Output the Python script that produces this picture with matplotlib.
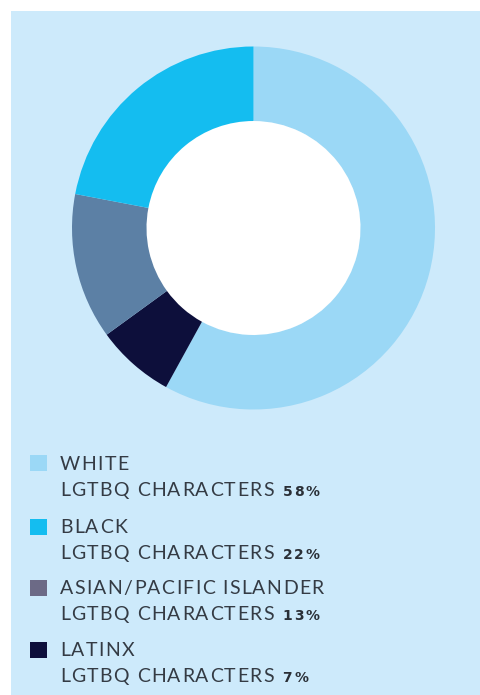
import matplotlib
matplotlib.use("Agg")
import matplotlib.pyplot as plt
from matplotlib.patches import Rectangle
from matplotlib.font_manager import FontProperties, findfont
from matplotlib.ft2font import FT2Font

# Data
categories = ["WHITE", "BLACK", "ASIAN/PACIFIC ISLANDER", "LATINX"]
values = [58, 22, 13, 7]
subtitle = "LGTBQ CHARACTERS"
pie_colors = {"WHITE": "#9bd8f6", "BLACK": "#14bdf0",
              "ASIAN/PACIFIC ISLANDER": "#5c80a5", "LATINX": "#0d0f3b"}
legend_colors = {"WHITE": "#9bd8f6", "BLACK": "#14bdf0",
                 "ASIAN/PACIFIC ISLANDER": "#6c6a86", "LATINX": "#0d0f3b"}
pie_order = ["WHITE", "LATINX", "ASIAN/PACIFIC ISLANDER", "BLACK"]

W, H = 480, 695
DPI = 100
fig = plt.figure(figsize=(W / DPI, H / DPI), dpi=DPI)
fig.patch.set_facecolor("white")

# background panel
fig.patches.append(Rectangle((11 / W, 0), 1 - 11 / W, 1 - 11 / H,
                             transform=fig.transFigure, facecolor="#cdeafb",
                             edgecolor="none", zorder=-5))

# pie axes
cx, cy, R = 253.5, 228, 181.5
ax = fig.add_axes([(cx - R) / W, 1 - (cy + R) / H, 2 * R / W, 2 * R / H])
ax.set_zorder(3)
vals = [values[categories.index(c)] for c in pie_order]
cols = [pie_colors[c] for c in pie_order]
ax.pie(vals, colors=cols, startangle=90, counterclock=False,
       wedgeprops=dict(width=1 - 107 / 181.5, edgecolor="none"))
ax.add_patch(plt.Circle((0, 0), 107 / 181.5, color="white", zorder=0))
ax.set_xlim(-1, 1)
ax.set_ylim(-1, 1)
ax.set_aspect("equal")
ax.axis("off")


def tracked_text(x_px, baseline_px, s, family, size, weight, color, tracking):
    """Draw text with extra letter spacing; returns end x in pixels."""
    prop = FontProperties(family=family, weight=weight, size=size)
    ft = FT2Font(findfont(prop))
    ft.set_size(size, DPI)
    x = x_px
    for ch in s:
        fig.text(x / W, 1 - baseline_px / H, ch, fontproperties=prop, color=color,
                 va="baseline", ha="left")
        glyph = ft.load_char(ord(ch))
        x += glyph.linearHoriAdvance / 65536 + tracking
    return x - tracking


txt_color = "#343b44"
font = "Lato"
first_baselines = [470, 533, 594, 656]
line_gap = 26
sq_tops = [455, 519, 580, 642]

for i, cat in enumerate(categories):
    fig.patches.append(Rectangle((30 / W, 1 - (sq_tops[i] + 16) / H), 17 / W, 16 / H,
                                 transform=fig.transFigure,
                                 facecolor=legend_colors[cat], edgecolor="none"))
    b1 = first_baselines[i]
    tracked_text(60, b1, cat, font, 14, "normal", txt_color, 1.3)
    end = tracked_text(60, b1 + line_gap, subtitle, font, 14, "normal", txt_color, 1.3)
    tracked_text(end + 9, b1 + line_gap, f"{values[i]}%", "DejaVu Sans", 10,
                 "bold", "#2a2f36", 1.8)

fig.savefig("out.png", dpi=DPI, facecolor=fig.get_facecolor())
